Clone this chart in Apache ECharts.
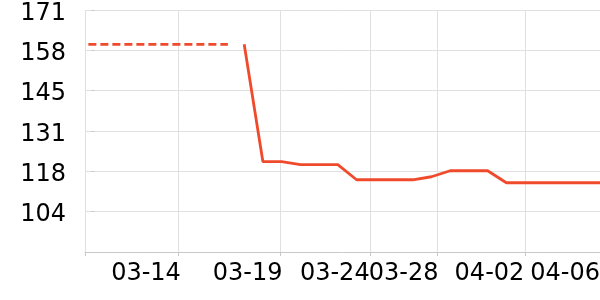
<!DOCTYPE html>
<html>
<head>
<meta charset="utf-8">
<script src="https://cdn.jsdelivr.net/npm/echarts@6/dist/echarts.min.js"></script>
<style>
html,body{margin:0;padding:0;background:#fff;}
#chart{width:600px;height:300px;}
</style>
</head>
<body>
<div id="chart"></div>
<script>
// x positions are point indices (one step per reading)
var solidX = [8, 9, 10, 11, 12, 13, 14, 15, 16, 17, 18, 19, 20, 21, 22, 23, 24, 25, 26, 27];
var solidY = [160, 121, 121, 120, 120, 120, 115, 115, 115, 115, 116, 118, 118, 118, 114, 114, 114, 114, 114, 114];
var dashX = [-0.32, 7.13];
var dashY = [160, 160];

var xTickValues = [-0.5, 4.48, 9.93, 14.73, 18.33, 23.01];
var xLabelValues = [4.62, 10.05, 14.7, 18.38, 22.96, 27];
var xLabels = ['03-14', '03-19', '03-24', '03-28', '04-02', '04-06'];

var yTickValues = [104.4, 117.8, 131.2, 144.6, 158, 171.4];
var yLabels = ['104', '118', '131', '145', '158', '171'];

function zip(xs, ys) { return xs.map(function (x, i) { return [x, ys[i]]; }); }

var chart = echarts.init(document.getElementById('chart'), null, { renderer: 'canvas' });
var font = 'DejaVu Sans';
chart.setOption({
  animation: false,
  grid: { left: 85, right: 0, top: 10, bottom: 48, containLabel: false, outerBoundsMode: 'none' },
  xAxis: {
    type: 'value', min: -0.5, max: 27,
    axisLine: { show: true, lineStyle: { color: '#c8c8c8', width: 1 } },
    axisTick: { show: true, length: 4, customValues: xTickValues, lineStyle: { color: '#c8c8c8' } },
    splitLine: { show: true, lineStyle: { color: '#e0e0e0', width: 1 } },
    axisLabel: {
      customValues: xLabelValues, align: 'right', margin: 10,
      fontFamily: font, fontSize: 24, color: '#000',
      formatter: function (v) { var i = xLabelValues.indexOf(v); return i >= 0 ? xLabels[i] : ''; }
    }
  },
  yAxis: {
    type: 'value', min: 91, max: 171.4,
    axisLine: { show: false },
    axisTick: { show: true, length: 3, customValues: yTickValues, lineStyle: { color: '#c8c8c8' } },
    splitLine: { show: true, lineStyle: { color: '#e0e0e0', width: 1 } },
    axisLabel: {
      customValues: yTickValues, margin: 19,
      fontFamily: font, fontSize: 24, color: '#000',
      formatter: function (v) { var i = yTickValues.indexOf(v); return i >= 0 ? '{v|' + yLabels[i] + '}' : ''; },
      rich: { v: { fontFamily: font, fontSize: 24, color: '#000', padding: [7, 0, 0, 0] } }
    }
  },
  series: [
    {
      type: 'line', data: zip(dashX, dashY), showSymbol: false, symbol: 'none', clip: false,
      lineStyle: { color: '#f04a2c', width: 2.8, type: [8, 4] }
    },
    {
      type: 'line', data: zip(solidX, solidY), showSymbol: false, symbol: 'none', clip: false,
      lineStyle: { color: '#f04a2c', width: 2.8 }
    }
  ]
});
</script>
</body>
</html>
